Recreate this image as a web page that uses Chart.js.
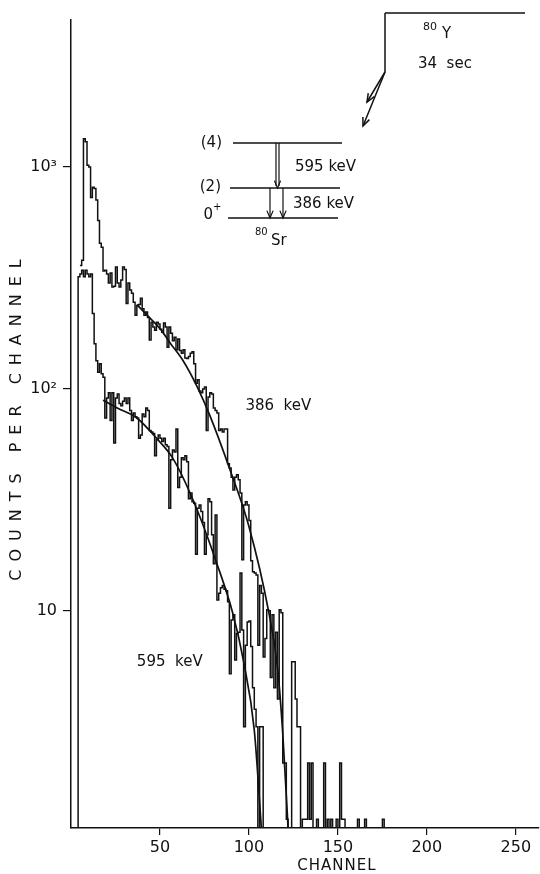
<!DOCTYPE html>
<html>
<head>
<meta charset="utf-8">
<script src="https://cdn.jsdelivr.net/npm/chart.js@4.4.1/dist/chart.umd.min.js"></script>
<style>
  html, body { margin: 0; padding: 0; background: #fff; }
</style>
</head>
<body>
<canvas id="myChart" width="540" height="874"></canvas>
<script>
  // axis limits
  const channelMin = 0;
  const channelMax = 263;
  const countMin = 1.05;
  const countMax = 4600;

  const channelTicks = [50, 100, 150, 200, 250];
  const countTicks = [10, 100, 1000];
  const countTickLabels = ['10', '10²', '10³'];

  // 386 keV gate, one count per channel from channel 5
  const counts386Start = 5;
  const counts386 = [
    360, 380, 1340, 1300, 1020, 1000, 730, 810, 800, 710,
    575, 454, 435, 340, 343, 330, 300, 333, 288, 290,
    354, 300, 288, 310, 354, 345, 243, 300, 279, 270,
    246, 215, 238, 240, 256, 230, 215, 222, 210, 166,
    200, 190, 184, 200, 196, 186, 180, 198, 190, 154,
    190, 178, 165, 171, 150, 168, 149, 145, 150, 138,
    137, 140, 145, 147, 130, 106, 110, 98, 96, 100,
    102, 65, 92, 96, 95, 82, 80, 78, 65, 66,
    64, 66, 66, 46, 44, 40, 35, 40, 41, 39,
    34, 17, 30, 31, 30, 25.5, 16.8, 15, 14.8, 14.5,
    7, 13, 12, 6.2, 7.5, 10.1, 10, 5, 9.6, 4.5,
    8, 4, 10.1, 9.8, 2.06, 2.06, 1.15, 1.05, 1.05, 5.9,
    5.9, 4, 3, 3, 1.05, 1.15, 1.15, 1.15, 2.06, 1.15,
    2.06, 1.05, 1.05, 1.15, 1.05, 1.05, 1.05, 2.06, 1.05, 1.15,
    1.05, 1.15, 1.05, 1.05, 1.15, 1.05, 2.06, 1.15, 1.15, 1.05,
    1.05, 1.05, 1.05, 1.05, 1.05, 1.05, 1.15, 1.05, 1.05, 1.05,
    1.15, 1.05, 1.05, 1.05, 1.05, 1.05, 1.05, 1.05, 1.05, 1.05,
    1.15, 1.05
  ];

  // 595 keV gate, one count per channel from channel 3
  const counts595Start = 3;
  const counts595 = [
    1.05, 320, 330, 343, 320, 343, 330, 320, 330, 219,
    160, 134, 119, 130, 117, 113, 74, 91, 96, 72,
    96, 57, 91, 95, 86, 84, 88, 91, 86, 91,
    80, 72, 78, 75, 74, 60, 62, 77, 75, 82,
    80, 65, 64, 63, 50, 59, 62, 60, 58, 60,
    56, 55, 29, 48, 53, 52, 66, 36, 40, 49,
    48, 50, 47, 32, 34, 31, 30.5, 18, 29, 30,
    28, 25, 18, 22, 32, 31, 22, 16.3, 27, 11.2,
    12, 12.7, 13, 12.5, 12.3, 11, 5.2, 9.1, 9.6, 6,
    7.9, 8, 14.8, 8.2, 3, 7, 8.9, 9, 6.9, 4.5,
    3.6, 3, 1.05, 3, 3, 1.05
  ];

  // fitted curves
  const fit386Channels = [37, 44, 50, 56, 63, 71, 78, 89, 100, 111, 116, 119, 122];
  const fit386Counts = [240, 210, 187, 160, 134, 102, 76, 44, 24, 10, 5.6, 2.8, 1.05];
  const fit595Channels = [18, 26, 37, 48, 57, 69, 82, 91, 97, 103, 107];
  const fit595Counts = [89, 82, 74, 60, 49, 31, 16.3, 9.7, 5.9, 2.9, 1.05];

  const ink = '#111';
  const font = '"DejaVu Sans", sans-serif';

  function stepPoints(start, counts) {
    const pts = counts.map((c, i) => ({ x: start + i, y: c }));
    pts.push({ x: start + counts.length, y: counts[counts.length - 1] });
    return pts;
  }

  function curvePoints(chs, cts) {
    return chs.map((c, i) => ({ x: c, y: cts[i] }));
  }

  function arrowHead(c, x, y, ang, len) {
    c.beginPath();
    c.moveTo(x + len * Math.cos(ang + 0.4), y + len * Math.sin(ang + 0.4));
    c.lineTo(x, y);
    c.lineTo(x + len * Math.cos(ang - 0.4), y + len * Math.sin(ang - 0.4));
    c.stroke();
  }

  function line(c, x1, y1, x2, y2) {
    c.beginPath();
    c.moveTo(x1, y1);
    c.lineTo(x2, y2);
    c.stroke();
  }

  // axis titles, peak labels and the decay scheme
  const decorations = {
    id: 'decorations',
    afterDraw(chart) {
      const c = chart.ctx;
      const xs = chart.scales.x;
      const ys = chart.scales.y;
      c.save();
      c.fillStyle = ink;
      c.strokeStyle = ink;
      c.lineWidth = 1.5;
      c.textBaseline = 'middle';

      // axis titles
      c.font = '15px ' + font;
      c.letterSpacing = '1px';
      c.textAlign = 'center';
      c.fillText('CHANNEL', 337, 866);
      c.save();
      c.translate(17, 420);
      c.rotate(-Math.PI / 2);
      c.font = '16px ' + font;
      c.letterSpacing = '8px';
      c.fillText('COUNTS PER CHANNEL', 4, 0);
      c.restore();
      c.letterSpacing = '0px';

      // peak labels
      c.font = '15px ' + font;
      c.textAlign = 'left';
      c.fillText('386  keV', xs.getPixelForValue(98), ys.getPixelForValue(84));
      c.fillText('595  keV', xs.getPixelForValue(37), ys.getPixelForValue(5.9));

      // parent state
      line(c, 385, 13, 525, 13);
      line(c, 385, 13, 385, 72);
      line(c, 385, 72, 367, 102);
      arrowHead(c, 367, 102, Math.atan2(72 - 102, 385 - 367), 9);
      line(c, 385, 72, 363, 126);
      arrowHead(c, 363, 126, Math.atan2(72 - 126, 385 - 363), 9);
      c.font = '11px ' + font;
      c.fillText('80', 423, 27);
      c.font = '15px ' + font;
      c.fillText('Y', 442, 34);
      c.fillText('34  sec', 418, 64);

      // levels of the daughter
      line(c, 233, 143, 342, 143);
      line(c, 230, 188, 340, 188);
      line(c, 228, 218, 338, 218);
      c.textAlign = 'right';
      c.fillText('(4)', 222, 143);
      c.fillText('(2)', 221, 187);
      c.fillText('0', 213, 215);
      c.font = '10px ' + font;
      c.textAlign = 'left';
      c.fillText('+', 213, 207);
      c.fillText('80', 255, 232);
      c.font = '15px ' + font;
      c.fillText('Sr', 271, 241);

      // transitions
      c.lineWidth = 1.2;
      line(c, 276, 143, 276, 186);
      line(c, 279, 143, 279, 186);
      arrowHead(c, 277.5, 188, -Math.PI / 2, 8);
      line(c, 270, 188, 270, 217);
      arrowHead(c, 270, 218, -Math.PI / 2, 8);
      line(c, 283, 188, 283, 217);
      arrowHead(c, 283, 218, -Math.PI / 2, 8);
      c.fillText('595 keV', 295, 167);
      c.fillText('386 keV', 293, 204);
      c.restore();
    }
  };

  const ctx = document.getElementById('myChart');
  new Chart(ctx, {
    type: 'line',
    data: {
      datasets: [{
        label: '386 keV',
        data: stepPoints(counts386Start, counts386),
        stepped: true,
        borderColor: ink,
        borderWidth: 1.5,
        pointRadius: 0
      }, {
        label: '595 keV',
        data: stepPoints(counts595Start, counts595),
        stepped: true,
        borderColor: ink,
        borderWidth: 1.5,
        pointRadius: 0
      }, {
        label: 'fit 386 keV',
        data: curvePoints(fit386Channels, fit386Counts),
        cubicInterpolationMode: 'monotone',
        borderColor: ink,
        borderWidth: 1.7,
        pointRadius: 0
      }, {
        label: 'fit 595 keV',
        data: curvePoints(fit595Channels, fit595Counts),
        cubicInterpolationMode: 'monotone',
        borderColor: ink,
        borderWidth: 1.7,
        pointRadius: 0
      }]
    },
    options: {
      responsive: false,
      animation: false,
      layout: { padding: { top: 20, right: 1, left: 0, bottom: 0 } },
      plugins: {
        legend: { display: false },
        tooltip: { enabled: false }
      },
      scales: {
        x: {
          type: 'linear',
          min: channelMin,
          max: channelMax,
          afterBuildTicks: (s) => { s.ticks = channelTicks.map(v => ({ value: v })); },
          afterFit: (s) => { s.height = 46; },
          grid: { drawOnChartArea: false, tickLength: 7, color: ink, lineWidth: 1.2 },
          border: { color: ink, width: 1.5 },
          ticks: { color: ink, padding: 3, maxRotation: 0, font: { family: font, size: 16 } }
        },
        y: {
          type: 'logarithmic',
          min: countMin,
          max: countMax,
          afterBuildTicks: (s) => { s.ticks = countTicks.map(v => ({ value: v })); },
          afterFit: (s) => { s.width = 71; },
          grid: { drawOnChartArea: false, tickLength: 8, color: ink, lineWidth: 1.2 },
          border: { color: ink, width: 1.5 },
          ticks: {
            color: ink,
            padding: 6,
            font: { family: font, size: 16 },
            callback: (v) => countTickLabels[countTicks.indexOf(v)]
          }
        }
      }
    },
    plugins: [decorations]
  });
</script>
</body>
</html>
